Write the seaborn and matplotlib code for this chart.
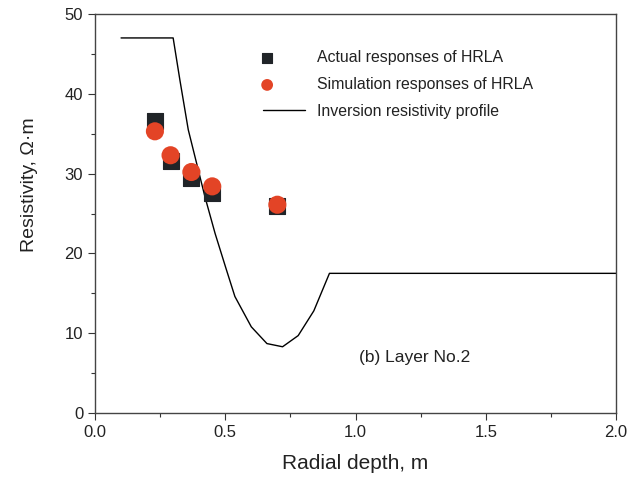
import matplotlib
matplotlib.use("Agg")
import matplotlib.pyplot as plt
import seaborn as sns
import pandas as pd
from matplotlib.ticker import MultipleLocator, FormatStrFormatter
from matplotlib.legend_handler import HandlerPathCollection

# Inversion resistivity profile
profile_x = [0.10, 0.30, 0.326, 0.358, 0.390, 0.422, 0.461, 0.503, 0.537, 0.60, 0.66, 0.72, 0.78, 0.84, 0.90, 2.00]
profile_y = [47.0, 47.0, 41.7, 35.5, 31.3, 27.1, 22.5, 18.1, 14.6, 10.8, 8.7, 8.3, 9.7, 12.8, 17.5, 17.5]

# Actual responses of HRLA
actual_x = [0.23, 0.29, 0.37, 0.45, 0.70]
actual_y = [36.6, 31.6, 29.4, 27.6, 25.9]

# Simulation responses of HRLA
sim_x = [0.23, 0.29, 0.37, 0.45, 0.70]
sim_y = [35.3, 32.3, 30.2, 28.4, 26.1]

labels = ["Actual responses of HRLA", "Simulation responses of HRLA", "Inversion resistivity profile"]


class LeftMarkerHandler(HandlerPathCollection):
    def get_xdata(self, legend, xdescent, ydescent, width, height, fontsize):
        xd = [-xdescent + 0.1 * width]
        return xd, xd


sns.set_style("ticks")
plt.rcParams['font.family'] = ['Liberation Sans', 'DejaVu Sans']

fig = plt.figure(figsize=(6.41, 4.95), dpi=100)
ax = fig.add_axes([95/641, 1-413/495, (616-95)/641, (413-14)/495])

df_p = pd.DataFrame({"x": profile_x, "y": profile_y})
df_a = pd.DataFrame({"x": actual_x, "y": actual_y})
df_s = pd.DataFrame({"x": sim_x, "y": sim_y})

sns.scatterplot(data=df_a, x="x", y="y", ax=ax, marker="s", s=120, color="#202428",
                edgecolor="#202428", linewidth=0.8, label=labels[0], zorder=3)
sns.scatterplot(data=df_s, x="x", y="y", ax=ax, marker="o", s=170, color="#e34426",
                edgecolor="none", linewidth=0, label=labels[1], zorder=4)
sns.lineplot(data=df_p, x="x", y="y", ax=ax, sort=False, estimator=None, color="black",
             linewidth=1.0, label=labels[2], zorder=2)

ax.set_xlim(0, 2.0)
ax.set_ylim(0, 50)
ax.xaxis.set_major_locator(MultipleLocator(0.5))
ax.xaxis.set_minor_locator(MultipleLocator(0.25))
ax.yaxis.set_major_locator(MultipleLocator(10))
ax.yaxis.set_minor_locator(MultipleLocator(5))
ax.xaxis.set_major_formatter(FormatStrFormatter('%.1f'))
ax.tick_params(axis='both', which='major', direction='out', length=5, width=0.8, labelsize=12,
               color='#333333', labelcolor='#222222')
ax.tick_params(axis='both', which='minor', direction='out', length=3, width=0.8, color='#333333')
for sp in ax.spines.values():
    sp.set_visible(True)
    sp.set_linewidth(1.0)
    sp.set_color('#444444')

ax.set_xlabel("Radial depth, m", fontsize=15, labelpad=10, color="#222222")
ax.set_ylabel("Resistivity, \u03a9\u00b7m", fontsize=14, labelpad=14, color="#222222")
ax.yaxis.set_label_coords(-0.11, 0.571)

ax.text(1.015, 7.0, "(b) Layer No.2", fontsize=12.5, color="#222222", va="center")

handles, labs = ax.get_legend_handles_labels()
hm = {h: LeftMarkerHandler() for h in handles[:2]}
leg = ax.legend(handles, labs, loc="upper left", bbox_to_anchor=(0.295, 0.945), frameon=False,
                fontsize=11.4, markerscale=0.65, handlelength=2.65, handletextpad=0.75,
                labelspacing=0.75, handler_map=hm)
for t in leg.get_texts():
    t.set_color("#222222")

fig.savefig("out.png", dpi=100)
